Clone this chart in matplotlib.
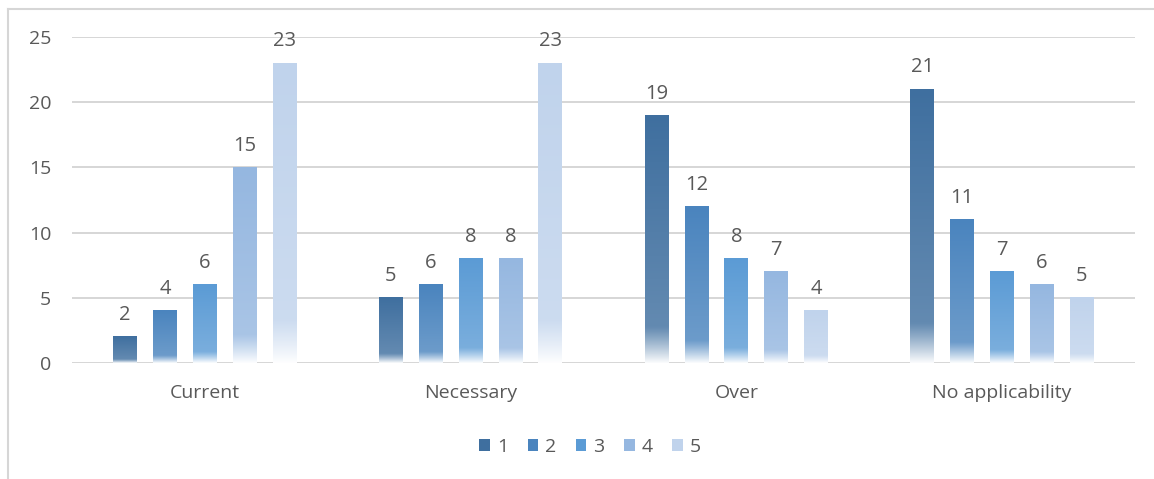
import numpy as np
import matplotlib
matplotlib.use("Agg")
import matplotlib.pyplot as plt
from matplotlib.lines import Line2D
from matplotlib.patches import Patch
from matplotlib.colors import to_rgb

categories = ["Current", "Necessary", "Over", "No applicability"]
series_names = ["1", "2", "3", "4", "5"]
s1 = [2, 5, 19, 21]
s2 = [4, 6, 12, 11]
s3 = [6, 8, 8, 7]
s4 = [15, 8, 7, 6]
s5 = [23, 23, 4, 5]
series = [s1, s2, s3, s4, s5]
colors = ["#3f6f9f", "#4a84be", "#5b9bd5", "#95b7e0", "#c0d3ec"]

plt.rcParams['font.family'] = ['Open Sans', 'DejaVu Sans']
text_col = "#595959"
grid_col = "#d6d6d6"

fig = plt.figure(figsize=(11.54, 4.79), dpi=100)
ax = fig.add_axes([72/1154, 1 - 363/479, (1135-72)/1154, (363-37)/479])

x = np.arange(len(categories))
width = 0.09
step = 0.15


def gradient(color, n=200):
    # white mix: slight lightening downwards, strong fade near the bottom
    t = np.linspace(0, 1, n)[:, None]  # 0 bottom, 1 top
    mix = 0.22 * (1 - t)
    fade = np.clip(1 - t / 0.2, 0, 1) ** 1.3 * 0.97
    mix = np.maximum(mix, fade)
    c = np.array(to_rgb(color))[None, :]
    img = c * (1 - mix) + mix
    return img[:, None, :]


for i, (vals, col) in enumerate(zip(series, colors)):
    pos = x + (i - 2) * step
    bars = ax.bar(pos, vals, width, color='none', zorder=2)
    for b, v in zip(bars, vals):
        ax.imshow(gradient(col), extent=[b.get_x(), b.get_x() + b.get_width(), 0, v],
                  origin='lower', aspect='auto', zorder=3, interpolation='bilinear')
        ax.annotate(str(v), (b.get_x() + b.get_width() / 2, v), xytext=(0, 12),
                    textcoords='offset points', ha='center', va='baseline',
                    fontsize=14.5, color=text_col)

ax.set_xlim(-0.5, len(categories) - 0.5)
ax.set_ylim(0, 25)
ax.set_yticks(range(0, 26, 5))
ax.set_xticks(x)
ax.set_xticklabels(categories)
ax.tick_params(axis='both', length=0, labelsize=14, labelcolor=text_col)
ax.tick_params(axis='y', pad=15)
ax.tick_params(axis='x', pad=15)
ax.yaxis.grid(True, color=grid_col, linewidth=1.4, zorder=0)
ax.set_axisbelow(True)
for s in ax.spines.values():
    s.set_visible(False)

handles = [Patch(facecolor=c, edgecolor='none') for c in colors]
fig.legend(handles, series_names, loc='center', bbox_to_anchor=(590/1154, 1 - 447/479),
           ncol=5, frameon=False, fontsize=14, labelcolor=text_col,
           handlelength=0.55, handleheight=0.55, handletextpad=0.35, columnspacing=1.0)

# chart border (top and left)
fig.add_artist(Line2D([8/1154, 8/1154], [0, 1 - 9/479], transform=fig.transFigure,
                      color=grid_col, linewidth=1.5))
fig.add_artist(Line2D([8/1154, 1], [1 - 9/479, 1 - 9/479], transform=fig.transFigure,
                      color=grid_col, linewidth=1.5))

fig.savefig("out.png", dpi=100)
